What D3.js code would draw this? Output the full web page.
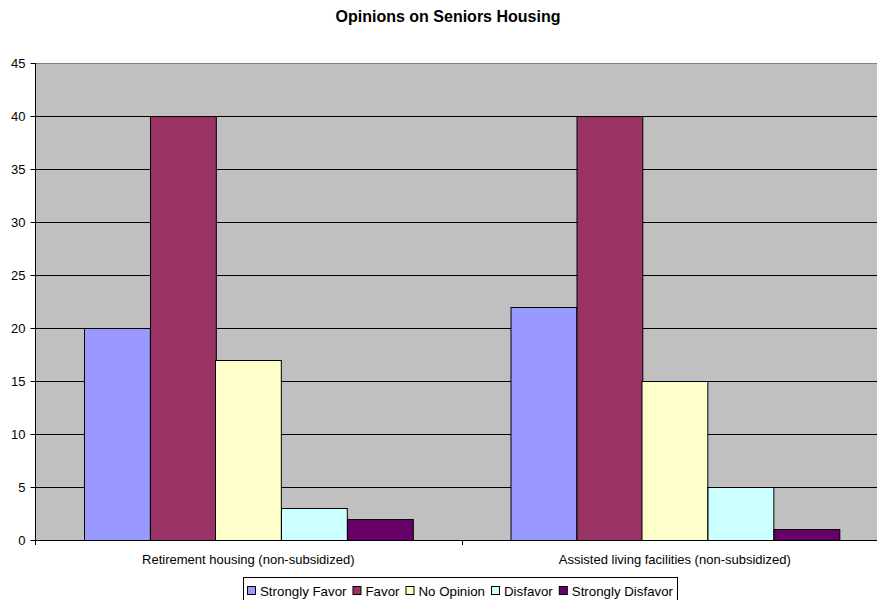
<!DOCTYPE html>
<html>
<head>
<meta charset="utf-8">
<script src="https://cdn.jsdelivr.net/npm/d3@7"></script>
<style>
  html, body { margin: 0; padding: 0; background: #fff; }
  svg { display: block; font-family: "Liberation Sans", Arial, sans-serif; }
</style>
</head>
<body>
<svg id="chart" width="877" height="600"></svg>
<script>
// Survey responses per housing type
const categories = ["Retirement housing (non-subsidized)", "Assisted living facilities (non-subsidized)"];
const seriesNames = ["Strongly Favor", "Favor", "No Opinion", "Disfavor", "Strongly Disfavor"];
const stronglyFavor = [20, 22];
const favor = [40, 40];
const noOpinion = [17, 15];
const disfavor = [3, 5];
const stronglyDisfavor = [2, 1];
const yTicks = [0, 5, 10, 15, 20, 25, 30, 35, 40, 45];
const seriesColors = ["#9999FF", "#993366", "#FFFFCC", "#CCFFFF", "#660066"];

const seriesValues = [stronglyFavor, favor, noOpinion, disfavor, stronglyDisfavor];

const svg = d3.select("#chart");
const plot = { left: 35, right: 888, top: 63, bottom: 540 };

const x0 = d3.scaleBand().domain(categories).range([plot.left, plot.right]).padding(0);
const x1 = d3.scaleBand().domain(seriesNames).range([0, x0.bandwidth()])
  .paddingInner(0).paddingOuter(0.74);
const y = d3.scaleLinear().domain([0, 45]).range([plot.bottom, plot.top]);

// plot background
svg.append("rect")
  .attr("x", plot.left).attr("y", plot.top)
  .attr("width", plot.right - plot.left).attr("height", plot.bottom - plot.top)
  .attr("fill", "#C0C0C0");

// top border of plot area
svg.append("line")
  .attr("x1", plot.left).attr("x2", plot.right)
  .attr("y1", plot.top + 0.5).attr("y2", plot.top + 0.5)
  .attr("stroke", "#808080");

// gridlines
svg.append("g").selectAll("line")
  .data(yTicks.filter(t => t > 0 && t < 45))
  .join("line")
  .attr("x1", plot.left).attr("x2", plot.right)
  .attr("y1", d => Math.round(y(d)) + 0.5).attr("y2", d => Math.round(y(d)) + 0.5)
  .attr("stroke", "#000").attr("stroke-width", 1);

// bars
const groups = svg.append("g").selectAll("g")
  .data(categories)
  .join("g")
  .attr("transform", d => `translate(${x0(d)},0)`);

groups.selectAll("rect")
  .data((c, ci) => seriesNames.map((s, si) => ({ s, si, v: seriesValues[si][ci] })))
  .join("rect")
  .attr("x", d => Math.round(x1(d.s)) + 0.5)
  .attr("y", d => Math.round(y(d.v)) + 0.5)
  .attr("width", x1.bandwidth())
  .attr("height", d => Math.round(y(0)) - Math.round(y(d.v)))
  .attr("fill", d => seriesColors[d.si])
  .attr("stroke", "#000").attr("stroke-width", 1);

// y axis
const yAxis = svg.append("g")
  .attr("transform", `translate(${plot.left + 0.5},0)`)
  .call(d3.axisLeft(y).tickValues(yTicks).tickSize(5).tickPadding(5).tickFormat(d3.format("d")));
yAxis.select(".domain").attr("stroke", "#000").attr("d", `M0,${plot.top}V${plot.bottom}`);
yAxis.selectAll(".tick line").attr("stroke", "#000");
yAxis.selectAll(".tick text").attr("font-size", 13).attr("fill", "#000")
  .attr("font-family", "'Liberation Sans', Arial, sans-serif");

// x axis baseline and category separators
svg.append("line")
  .attr("x1", plot.left).attr("x2", plot.right)
  .attr("y1", plot.bottom + 0.5).attr("y2", plot.bottom + 0.5)
  .attr("stroke", "#000");
const bounds = categories.map(c => x0(c)).concat([plot.right]);
svg.append("g").selectAll("line")
  .data(bounds)
  .join("line")
  .attr("x1", d => Math.round(d) + 0.5).attr("x2", d => Math.round(d) + 0.5)
  .attr("y1", plot.bottom).attr("y2", plot.bottom + 5)
  .attr("stroke", "#000");

// category labels
svg.append("g").selectAll("text")
  .data(categories)
  .join("text")
  .attr("x", d => x0(d) + x0.bandwidth() / 2)
  .attr("y", 564)
  .attr("text-anchor", "middle")
  .attr("font-size", 13)
  .attr("fill", "#000")
  .text(d => d);

// title
svg.append("text")
  .attr("x", 448).attr("y", 22)
  .attr("text-anchor", "middle")
  .attr("font-size", 16).attr("font-weight", "bold")
  .text("Opinions on Seniors Housing");

// legend
const legend = svg.append("g");
legend.append("rect")
  .attr("x", 243.5).attr("y", 577.5)
  .attr("width", 434).attr("height", 30)
  .attr("fill", "#fff").attr("stroke", "#000");

let lx = 247;
seriesNames.forEach((name, i) => {
  legend.append("rect")
    .attr("x", lx + 0.5).attr("y", 586.5)
    .attr("width", 8).attr("height", 8)
    .attr("fill", seriesColors[i]).attr("stroke", "#000");
  const t = legend.append("text")
    .attr("x", lx + 13).attr("y", 596)
    .attr("font-size", 13.3)
    .attr("fill", "#000")
    .text(name);
  lx += 13 + t.node().getComputedTextLength() + 6;
});
</script>
</body>
</html>
